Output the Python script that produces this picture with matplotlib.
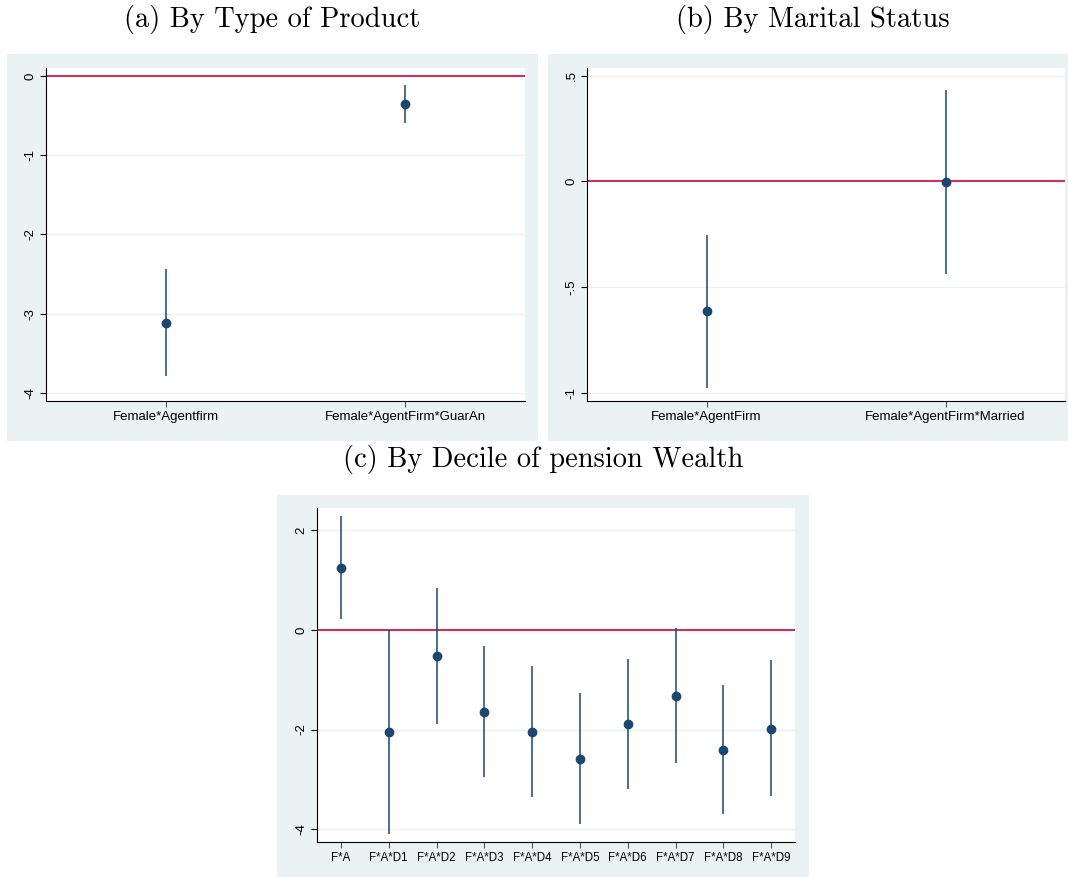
import matplotlib
matplotlib.use("Agg")
import matplotlib.pyplot as plt
import numpy as np

# panel (a): by type of product
labels_a = ["Female*Agentfirm", "Female*AgentFirm*GuarAn"]
coef_a = [-3.12, -0.36]
lo_a = [-3.79, -0.59]
hi_a = [-2.44, -0.12]

# panel (b): by marital status
labels_b = ["Female*AgentFirm", "Female*AgentFirm*Married"]
coef_b = [-0.614, -0.003]
lo_b = [-0.976, -0.438]
hi_b = [-0.252, 0.432]

# panel (c): by decile of pension wealth
labels_c = ["F*A", "F*A*D1", "F*A*D2", "F*A*D3", "F*A*D4",
            "F*A*D5", "F*A*D6", "F*A*D7", "F*A*D8", "F*A*D9"]
coef_c = [1.235, -2.054, -0.523, -1.638, -2.047, -2.591, -1.886, -1.329, -2.409, -1.980]
lo_c = [0.208, -4.10, -1.879, -2.946, -3.349, -3.893, -3.195, -2.678, -3.691, -3.342]
hi_c = [2.275, 0.0, 0.832, -0.322, -0.732, -1.268, -0.577, 0.034, -1.114, -0.611]

BG = "#eaf2f3"
NAVY = "#1a476f"
RED = "#cc3358"

W, H = 1068, 877
fig = plt.figure(figsize=(W / 100, H / 100), dpi=100)


def box(x0, y0, x1, y1):
    # pixel box (top-left origin) -> figure fraction rect
    return [x0 / W, 1 - y1 / H, (x1 - x0) / W, (y1 - y0) / H]


def coefplot(bg_px, ax_px, labels, coef, lo, hi, ylim, yticks, yticklabels, xfs=9.5):
    bg = fig.add_axes(box(*bg_px))
    bg.set_facecolor(BG)
    bg.set_xticks([])
    bg.set_yticks([])
    for s in bg.spines.values():
        s.set_visible(False)
    bg.set_zorder(0)

    ax = fig.add_axes(box(*ax_px))
    ax.set_zorder(1)
    ax.set_facecolor("white")
    x = np.arange(1, len(labels) + 1)
    ax.vlines(x, lo, hi, color=NAVY, lw=1.3, alpha=0.85, zorder=3)
    ax.plot(x, coef, "o", color=NAVY, ms=6, zorder=4)
    ax.axhline(0, color=RED, lw=1.5, zorder=2)
    ax.set_xlim(0.5, len(labels) + 0.5)
    ax.set_ylim(*ylim)
    ax.set_yticks(yticks)
    ax.set_yticklabels(yticklabels, rotation=90, va="center",
                       fontsize=9.5, fontfamily="Liberation Sans")
    ax.set_xticks(x)
    ax.set_xticklabels(labels, fontsize=xfs, fontfamily="Liberation Sans")
    ax.grid(axis="y", color=BG, lw=1)
    ax.set_axisbelow(True)
    ax.spines["top"].set_visible(False)
    ax.spines["right"].set_visible(False)
    ax.tick_params(direction="out", length=4, width=0.8, pad=3, colors="black")
    ax.tick_params(axis="x", colors="#555555", labelcolor="black")
    return ax


coefplot((7, 54, 538, 441), (46, 68, 525, 401), labels_a, coef_a, lo_a, hi_a,
         (-4.1, 0.1), [0, -1, -2, -3, -4], ["0", "-1", "-2", "-3", "-4"])
coefplot((548, 54, 1068, 441), (587, 68, 1065, 401), labels_b, coef_b, lo_b, hi_b,
         (-1.038, 0.536), [0.5, 0, -0.5, -1], [".5", "0", "-.5", "-1"])
coefplot((277, 495, 809, 877), (317, 508, 795, 842), labels_c, coef_c, lo_c, hi_c,
         (-4.255, 2.443), [2, 0, -2, -4], ["2", "0", "-2", "-4"], xfs=8.3)

fig.text(272 / W, 1 - 19 / H, "(a) By Type of Product", ha="center", va="center",
         fontsize=20.5, fontfamily="cmr10")
fig.text(813 / W, 1 - 19 / H, "(b) By Marital Status", ha="center", va="center",
         fontsize=20.5, fontfamily="cmr10")
fig.text(543 / W, 1 - 460 / H, "(c) By Decile of pension Wealth", ha="center", va="center",
         fontsize=20.5, fontfamily="cmr10")

fig.savefig("out.png", dpi=100, facecolor="white")
